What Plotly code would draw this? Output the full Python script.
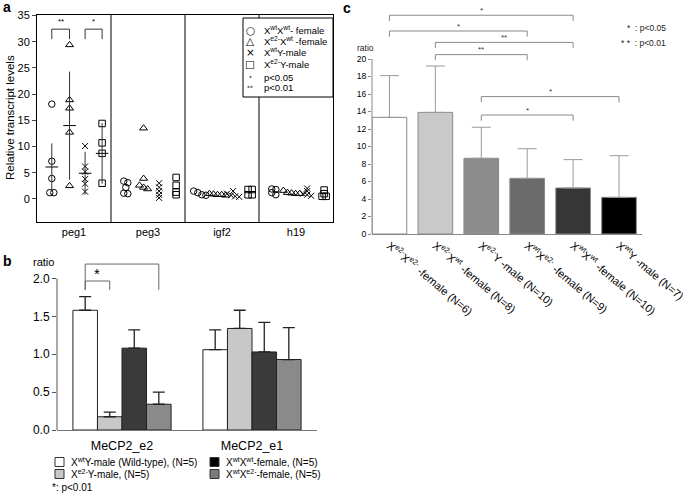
import plotly.graph_objects as go

W, H = 685, 499
FONT = "Liberation Sans, Arial, Helvetica, sans-serif"


def px(x):
    return x / W


def py(y):
    return 1 - y / H


# ---------------- Panel a data ----------------
genes = ["peg1", "peg3", "igf2", "h19"]
a_group_labels = [
    "X<sup>wt</sup>X<sup>wt</sup>- female",
    "X<sup>e2-</sup>X<sup>wt</sup> -female",
    "X<sup>wt</sup>Y-male",
    "X<sup>e2-</sup>Y-male",
]
xwtxwt_female = [[18.1, 7.2, 3.9, 1.2, 1.2], [3.4, 3.1, 2.2, 1.1, 1.0], [1.5, 1.2, 0.8, 0.7], [1.9, 1.8, 1.2, 0.8]]
xe2xwt_female = [[29.4, 18.9, 17.3, 12.7, 2.5], [13.5, 3.9, 2.6, 2.2, 1.9], [1.0, 0.9, 0.8, 0.8, 0.7], [1.6, 1.2, 1.1, 1.0, 1.0]]
xwty_male = [[10.1, 6.2, 5.2, 3.8, 2.9, 1.4], [3.0, 2.2, 1.5, 0.8, 0.2], [1.5, 1.0, 0.7, 0.5, 0.4], [2.0, 1.5, 1.0, 0.8, 0.6]]
xe2y_male = [[14.4, 10.7, 8.7, 3.0], [4.1, 2.6, 1.3, 0.8], [1.8, 1.8, 0.8, 0.8], [1.7, 1.0, 0.5, 0.5]]
peg1_mean = [6.1, 14.0, 4.9, 8.7]
peg1_sd = [4.5, 10.3, 4.1, 5.8]
a_ticks = [0, 5, 10, 15, 20, 25, 30, 35]

# ---------------- Panel b data ----------------
b_categories = ["MeCP2_e2", "MeCP2_e1"]
b_series_names = [
    "X<sup>wt</sup>Y-male (Wild-type), (N=5)",
    "X<sup>e2-</sup>Y-male, (N=5)",
    "X<sup>wt</sup>X<sup>wt</sup>-female, (N=5)",
    "X<sup>wt</sup>X<sup>e2-</sup>-female, (N=5)",
]
b_wt_male = [1.58, 1.06]
b_e2_male = [0.175, 1.34]
b_wtwt_female = [1.08, 1.03]
b_wte2_female = [0.34, 0.93]
b_wt_male_sd = [0.18, 0.26]
b_e2_male_sd = [0.06, 0.24]
b_wtwt_female_sd = [0.24, 0.39]
b_wte2_female_sd = [0.16, 0.42]
b_ticks = [0.0, 0.5, 1.0, 1.5, 2.0]

# ---------------- Panel c data ----------------
c_labels = [
    "X<sup>e2-</sup>X<sup>e2-</sup> -female (N=6)",
    "X<sup>e2-</sup>X<sup>wt</sup> -female (N=8)",
    "X<sup>e2-</sup>Y -male (N=10)",
    "X<sup>wt</sup>X<sup>e2-</sup> -female (N=9)",
    "X<sup>wt</sup>X<sup>wt</sup> -female (N=10)",
    "X<sup>wt</sup>Y -male (N=7)",
]
c_values = [13.33, 13.9, 8.65, 6.36, 5.26, 4.19]
c_sd = [4.77, 5.3, 3.55, 3.39, 3.24, 4.76]
c_ticks = [0, 2, 4, 6, 8, 10, 12, 14, 16, 18, 20]

# ---------------- styles ----------------
a_offsets = [-0.30, -0.06, 0.15, 0.38]
a_symbols = ["circle-open", "triangle-up-open", "x-thin-open", "square-open"]
a_sizes = [6.5, 7, 6, 6.5]
b_colors = ["#ffffff", "#c8c8c8", "#3a3a3a", "#8a8a8a"]
b_legend_colors = ["#ffffff", "#c8c8c8", "#000000", "#7a7a7a"]
c_colors = ["#ffffff", "#c9c9c9", "#8c8c8c", "#6b6b6b", "#363636", "#000000"]


def jitter(vals, step=0.055, thr=0.45):
    order = sorted(range(len(vals)), key=lambda i: -vals[i])
    clusters = []
    for i in order:
        if clusters and abs(vals[clusters[-1][-1]] - vals[i]) < thr:
            clusters[-1].append(i)
        else:
            clusters.append([i])
    off = [0.0] * len(vals)
    for c in clusters:
        n = len(c)
        for k, i in enumerate(c):
            off[i] = (k - (n - 1) / 2) * step
    return off


def A(x, y, text, size, xanchor="center", yanchor="middle", color="black", **kw):
    d = dict(x=x, y=y, xref="paper", yref="paper", text=text, showarrow=False,
             xanchor=xanchor, yanchor=yanchor, font=dict(size=size, color=color))
    d.update(kw)
    return d


fig = go.Figure()

# ---- panel a traces ----
a_groups = [xwtxwt_female, xe2xwt_female, xwty_male, xe2y_male]
for g, data in enumerate(a_groups):
    xs, ys = [], []
    for gi, vals in enumerate(data):
        j = jitter(vals)
        for v, o in zip(vals, j):
            xs.append(gi + a_offsets[g] + o)
            ys.append(v)
    fig.add_trace(go.Scatter(
        x=xs, y=ys, mode="markers", xaxis="x", yaxis="y",
        marker=dict(symbol=a_symbols[g], size=a_sizes[g], color="black",
                    line=dict(color="black", width=1)),
        showlegend=False, hoverinfo="skip"))

fig.add_trace(go.Scatter(
    x=[a_offsets[g] for g in range(4)], y=peg1_mean, mode="markers",
    xaxis="x", yaxis="y",
    marker=dict(symbol="line-ew-open", size=9, color="black", line=dict(color="black", width=1)),
    error_y=dict(type="data", array=peg1_sd, visible=True, width=0, thickness=1, color="#333"),
    showlegend=False, hoverinfo="skip"))

# ---- panel b traces ----
b_series = [b_wt_male, b_e2_male, b_wtwt_female, b_wte2_female]
b_sds = [b_wt_male_sd, b_e2_male_sd, b_wtwt_female_sd, b_wte2_female_sd]
for i, (vals, sd) in enumerate(zip(b_series, b_sds)):
    fig.add_trace(go.Bar(
        x=list(range(len(b_categories))), y=vals, xaxis="x2", yaxis="y2",
        name=b_series_names[i], offsetgroup=str(i),
        marker=dict(color=b_colors[i], line=dict(color="#222", width=1)),
        error_y=dict(type="data", array=sd, arrayminus=[0] * len(sd), symmetric=False,
                     visible=True, width=6, thickness=1.3, color="#222"),
        showlegend=False, hoverinfo="skip"))

# ---- panel c traces ----
fig.add_trace(go.Bar(
    x=list(range(len(c_labels))), y=c_values, xaxis="x3", yaxis="y3",
    marker=dict(color=c_colors, line=dict(color="#8a8a8a", width=1)),
    error_y=dict(type="data", array=c_sd, arrayminus=[0] * len(c_sd), symmetric=False,
                 visible=True, width=9.5, thickness=1, color="#9a9a9a"),
    showlegend=False, hoverinfo="skip"))

shapes = []
ann = []

# ---- panel a decorations ----
for s in [0.5, 1.5, 2.5]:
    shapes.append(dict(type="line", xref="x", yref="y domain", x0=s, x1=s, y0=0, y1=1,
                       line=dict(color="black", width=1)))
for (g1, g2, star) in [(0, 1, "**"), (2, 3, "*")]:
    x1, x2 = a_offsets[g1], a_offsets[g2]
    shapes.append(dict(type="path", xref="x", yref="y",
                       path=f"M {x1},30.5 L {x1},32.4 L {x2},32.4 L {x2},30.5",
                       line=dict(color="#333", width=1)))
    ann.append(dict(x=(x1 + x2) / 2, y=33.9, xref="x", yref="y", text=star, showarrow=False,
                    xanchor="center", yanchor="middle", font=dict(size=8, color="black")))

# panel a legend (manual)
shapes.append(dict(type="rect", xref="paper", yref="paper", x0=px(243), x1=px(333), y0=py(97), y1=py(18),
                   line=dict(color="black", width=1), fillcolor="white", layer="above"))
leg_syms = ["○", "△", "×", "□", "<span style='font-size:6px'>*</span>", "<span style='font-size:6px'>**</span>"]
leg_txt = a_group_labels + ["p<0.05", "p<0.01"]
leg_y = [30, 41, 52, 64, 77, 88]
for s, t, yy in zip(leg_syms, leg_txt, leg_y):
    d = A(px(250), py(yy), s, 10.5)
    d["font"]["family"] = "DejaVu Sans"
    ann.append(d)
    ann.append(A(px(262), py(yy), t, 9.5, xanchor="left"))

ann.append(A(px(10), py(118), "Relative transcript levels", 11.5, textangle=-90))
ann.append(A(px(7), py(7), "<b>a</b>", 14))

# ---- panel b decorations ----
bgap = 0.245
gw = 1 - bgap
b_center = [-gw / 2 + (i + 0.5) * gw / 4 for i in range(4)]
shapes.append(dict(type="line", xref="x2 domain", yref="y2", x0=0, x1=0, y0=0, y1=2.0,
                   line=dict(color="#555", width=1)))
shapes.append(dict(type="path", xref="x2", yref="y2",
                   path=f"M {b_center[0]},1.85 L {b_center[0]},1.966 L {b_center[1]},1.966 L {b_center[1]},1.85",
                   line=dict(color="#666", width=1)))
shapes.append(dict(type="path", xref="x2", yref="y2",
                   path=f"M {b_center[0]},1.85 L {b_center[0]},2.19 L {b_center[3]},2.19 L {b_center[3]},1.85",
                   line=dict(color="#666", width=1)))
ann.append(dict(x=(b_center[0] + b_center[1]) / 2, y=2.06, xref="x2", yref="y2", text="*",
                showarrow=False, xanchor="center", yanchor="middle", font=dict(size=15, color="black")))
ann.append(dict(x=(b_center[0] + b_center[3]) / 2, y=2.29, xref="x2", yref="y2", text="*",
                showarrow=False, xanchor="center", yanchor="middle", font=dict(size=15, color="black")))
ann.append(A(px(43), py(262), "ratio", 11))
ann.append(A(px(8), py(261), "<b>b</b>", 14))
b_leg_pos = [(55, 462), (55, 474), (210, 462), (210, 474)]
for i, (lx, ly) in enumerate(b_leg_pos):
    shapes.append(dict(type="rect", xref="paper", yref="paper", x0=px(lx), x1=px(lx + 9),
                       y0=py(ly + 4.5), y1=py(ly - 4.5), fillcolor=b_legend_colors[i],
                       line=dict(color="#333", width=1)))
    ann.append(A(px(lx + 14), py(ly), b_series_names[i], 10, xanchor="left"))
ann.append(A(px(50), py(487), "*: p<0.01", 10, xanchor="left"))

# ---- panel c decorations ----
shapes.append(dict(type="line", xref="x3 domain", yref="y3", x0=0, x1=0, y0=0, y1=20,
                   line=dict(color="#888", width=1)))
c_brackets = [(0, 4, 25.0, "*"), (0, 3, 23.2, "*"), (1, 4, 21.9, "**"), (1, 3, 20.5, "**"),
              (2, 5, 15.7, "*"), (2, 4, 13.6, "*")]
for (i1, i2, top, star) in c_brackets:
    leg = top - 0.65
    shapes.append(dict(type="path", xref="x3", yref="y3",
                       path=f"M {i1},{leg} L {i1},{top} L {i2},{top} L {i2},{leg}",
                       line=dict(color="#8a8a8a", width=1)))
    ann.append(dict(x=(i1 + i2) / 2, y=top + 0.55, xref="x3", yref="y3", text=star, showarrow=False,
                    xanchor="center", yanchor="middle", font=dict(size=8, color="#333")))
ann.append(A(px(365), py(48), "ratio", 8.5, color="#222"))
ann.append(A(px(668), py(28), "*  : p<0.05", 8.5, xanchor="right", color="#222"))
ann.append(A(px(668), py(43), "* *  : p<0.01", 8.5, xanchor="right", color="#222"))
ann.append(A(px(347), py(8), "<b>c</b>", 14))

noauto = dict(automargin=False, showgrid=False, zeroline=False)
fig.update_layout(
    template="none",
    width=W, height=H, margin=dict(l=0, r=0, t=0, b=0, pad=0),
    paper_bgcolor="white", plot_bgcolor="white",
    font=dict(family=FONT, color="black"),
    barmode="group", bargap=bgap, bargroupgap=0,
    showlegend=False,
    shapes=shapes, annotations=ann,
    xaxis=dict(domain=[px(37), px(333)], range=[-0.5, 3.5], tickvals=list(range(len(genes))),
               ticktext=genes, showline=True, mirror=True, linecolor="black", linewidth=1,
               ticks="", tickfont=dict(size=11), anchor="y", **noauto),
    yaxis=dict(domain=[py(222), py(15)], range=[-4.4, 35.1], tickvals=a_ticks,
               showline=True, mirror=True, linecolor="black", linewidth=1, ticks="outside",
               ticklen=4, tickfont=dict(size=11), anchor="x", **noauto),
    xaxis2=dict(domain=[px(57), px(317)], range=[-0.5, 1.5], tickvals=list(range(len(b_categories))),
                ticktext=b_categories, showline=True, linecolor="#777", linewidth=1, ticks="",
                tickfont=dict(size=12.5), anchor="y2", ticklabelstandoff=4, **noauto),
    yaxis2=dict(domain=[py(430), py(259.5)], range=[0, 2.25], tickvals=b_ticks, tickformat=".1f",
                showline=False, ticks="outside", ticklen=4, tickcolor="#555",
                tickfont=dict(size=12), anchor="x2", **noauto),
    xaxis3=dict(domain=[px(372), px(642)], range=[-0.38, 5.5], tickvals=list(range(len(c_labels))),
                ticktext=c_labels, tickangle=40, showline=True, linecolor="#888", linewidth=1,
                ticks="", tickfont=dict(size=11), anchor="y3", ticklabeloverflow="allow", **noauto),
    yaxis3=dict(domain=[py(234), py(6.5)], range=[0, 26], tickvals=c_ticks, showline=False,
                ticks="outside", ticklen=3, tickcolor="#888",
                tickfont=dict(size=8.5), anchor="x3", **noauto),
)

fig.write_html("out.html", config={"displayModeBar": False},
               post_script="document.body.style.margin='0px';document.body.style.overflow='hidden';")
